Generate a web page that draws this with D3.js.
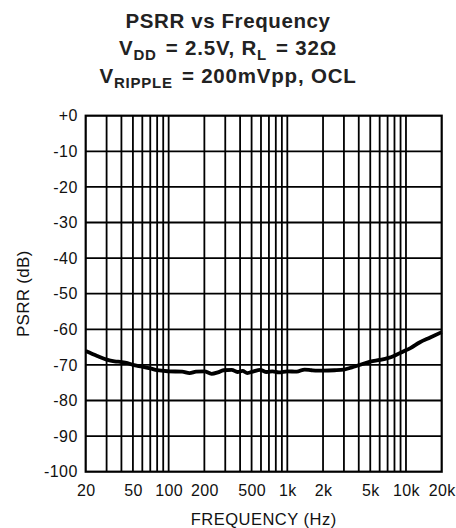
<!DOCTYPE html>
<html>
<head>
<meta charset="utf-8">
<script src="https://cdn.jsdelivr.net/npm/d3@7"></script>
<style>
  body { margin: 0; background: #fff; }
  text { font-family: "Liberation Sans", Arial, Helvetica, sans-serif; }
</style>
</head>
<body>
<div id="chart"></div>
<script>
// values
const freqs = [20, 25, 30, 35, 40, 45, 50, 60, 70, 80, 100, 130, 150, 170, 200, 230, 260, 290, 340, 380,
  420, 460, 520, 590, 670, 750, 850, 1000, 1200, 1400, 1600, 1800, 2000, 2500, 3000, 3500, 4000, 5000,
  6000, 7000, 8000, 9400, 11000, 13000, 16000, 20000];
const psrr = [-66.1, -67.5, -68.5, -69.0, -69.2, -69.5, -70.0, -70.5, -71.0, -71.5, -71.8, -71.9, -72.3, -71.9, -71.8, -72.5, -72.1, -71.5, -71.4, -72.0,
  -71.7, -72.3, -71.8, -71.4, -72.0, -71.8, -72.1, -71.8, -71.9, -71.3, -71.5, -71.6, -71.6, -71.5, -71.3, -70.7, -70.1, -69.1,
  -68.6, -68.1, -67.4, -66.3, -65.2, -63.7, -62.3, -60.8];

const xTicks = [20, 50, 100, 200, 500, 1000, 2000, 5000, 10000, 20000];
const xTickLabels = ["20", "50", "100", "200", "500", "1k", "2k", "5k", "10k", "20k"];
const yTicks = [0, -10, -20, -30, -40, -50, -60, -70, -80, -90, -100];
const yTickLabels = ["+0", "-10", "-20", "-30", "-40", "-50", "-60", "-70", "-80", "-90", "-100"];

const W = 456, H = 528;
const margin = { top: 115.7, right: 14.3, bottom: 56.3, left: 85.7 };
const width = W - margin.left - margin.right;
const height = H - margin.top - margin.bottom;

const svg = d3.select("#chart").append("svg")
    .attr("width", W)
    .attr("height", H);

// title, three lines with subscripts
const title = svg.append("g")
    .attr("font-weight", "bold")
    .attr("font-size", 20.5)
    .attr("fill", "#222");

title.append("text")
    .attr("x", W / 2).attr("y", 27.5)
    .attr("text-anchor", "middle")
    .style("letter-spacing", "0.6px")
    .text("PSRR vs Frequency");

function subLine(y, parts) {
    const t = title.append("text")
        .attr("x", W / 2).attr("y", y)
        .attr("text-anchor", "middle")
        .style("letter-spacing", "0.8px");
    parts.forEach(p => {
        if (p.sub) {
            t.append("tspan").attr("font-size", 15).attr("dy", 4.8).text(p.sub);
            t.append("tspan").attr("dy", -4.8).text("\u200A");
        } else {
            t.append("tspan").text(p.t);
        }
    });
}
subLine(55, [{ t: "V" }, { sub: "DD" }, { t: " = 2.5V, R" }, { sub: "L" }, { t: " = 32\u03A9" }]);
subLine(82.7, [{ t: "V" }, { sub: "RIPPLE" }, { t: " = 200mVpp, OCL" }]);

const g = svg.append("g")
    .attr("transform", `translate(${margin.left},${margin.top})`);

const x = d3.scaleLog().domain([20, 20000]).range([0, width]);
const y = d3.scaleLinear().domain([-100, 0]).range([height, 0]);

// grid: every decade step on x, every 10 dB on y
const xGrid = [];
[10, 100, 1000, 10000].forEach(dec => {
    for (let k = 1; k <= 9; k++) {
        const f = dec * k;
        if (f > 20 && f < 20000) xGrid.push(f);
    }
});

g.selectAll(".vgrid")
    .data(xGrid)
    .enter().append("line")
    .attr("x1", d => x(d)).attr("x2", d => x(d))
    .attr("y1", 0).attr("y2", height)
    .attr("stroke", "#000")
    .attr("stroke-width", 1.8);

g.selectAll(".hgrid")
    .data(yTicks.slice(1, -1))
    .enter().append("line")
    .attr("x1", 0).attr("x2", width)
    .attr("y1", d => y(d)).attr("y2", d => y(d))
    .attr("stroke", "#000")
    .attr("stroke-width", 1.8);

g.append("rect")
    .attr("width", width).attr("height", height)
    .attr("fill", "none")
    .attr("stroke", "#000")
    .attr("stroke-width", 2.2);

// axes
const xAxis = g.append("g")
    .attr("transform", `translate(0,${height})`)
    .call(d3.axisBottom(x).tickValues(xTicks).tickFormat((d, i) => xTickLabels[i]).tickSize(0).tickPadding(13));
xAxis.select(".domain").remove();
xAxis.selectAll("text")
    .attr("font-size", 16)
    .attr("fill", "#111")
    .style("letter-spacing", "0.4px");

const yAxis = g.append("g")
    .call(d3.axisLeft(y).tickValues(yTicks).tickFormat((d, i) => yTickLabels[i]).tickSize(0).tickPadding(8));
yAxis.select(".domain").remove();
yAxis.selectAll("text")
    .attr("font-size", 16)
    .attr("fill", "#111")
    .style("letter-spacing", "0.4px");

// axis titles
svg.append("text")
    .attr("x", margin.left + width / 2)
    .attr("y", 525)
    .attr("text-anchor", "middle")
    .attr("font-size", 16.5)
    .attr("fill", "#111")
    .style("letter-spacing", "0.5px")
    .text("FREQUENCY (Hz)");

svg.append("text")
    .attr("transform", `translate(29,${margin.top + height / 2}) rotate(-90)`)
    .attr("text-anchor", "middle")
    .attr("font-size", 17)
    .attr("fill", "#111")
    .style("letter-spacing", "0.3px")
    .text("PSRR (dB)");

// curve
const line = d3.line()
    .x((d, i) => x(freqs[i]))
    .y(d => y(d))
    .curve(d3.curveMonotoneX);

g.append("path")
    .datum(psrr)
    .attr("d", line)
    .attr("fill", "none")
    .attr("stroke", "#000")
    .attr("stroke-width", 3.8)
    .attr("stroke-linejoin", "round");
</script>
</body>
</html>
